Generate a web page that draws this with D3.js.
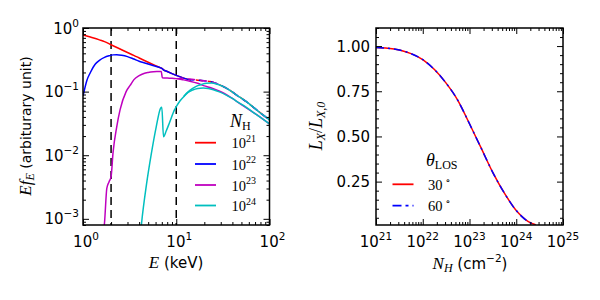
<!DOCTYPE html>
<html><head><meta charset="utf-8">
<script src="https://cdn.jsdelivr.net/npm/d3@7"></script>
<style>body{margin:0;background:#fff}</style>
</head><body>
<svg id="c" width="600" height="300"></svg>
<script>
// ---------- DATA (left panel: E f_E vs E) ----------
const nhLabels = ["21", "22", "23", "24"];
const seriesColors = ["#ff0000", "#0000ff", "#bf00bf", "#00bfbf"];

const e21E = [1, 1.2, 1.5, 1.7, 2, 2.5, 3, 3.5, 4, 5, 6, 6.8, 7.0, 7.3, 8, 9, 10, 12, 14];
const e21V = [0.78, 0.72, 0.65, 0.61, 0.545, 0.467, 0.412, 0.372, 0.338, 0.289, 0.256, 0.236, 0.232, 0.22, 0.207, 0.192, 0.18, 0.163, 0.153];

const e22E = [1, 1.1, 1.2, 1.35, 1.5, 1.7, 1.9, 2.1, 2.3, 2.6, 3, 3.5, 4, 4.5, 5, 6, 6.8, 7.0, 7.3, 8, 9, 10, 12, 14];
const e22V = [0.085, 0.15, 0.2, 0.27, 0.31, 0.345, 0.365, 0.378, 0.38, 0.373, 0.355, 0.325, 0.3, 0.285, 0.272, 0.25, 0.236, 0.232, 0.22, 0.207, 0.192, 0.18, 0.163, 0.153];

const e23E = [1.65, 1.7, 1.8, 1.9, 2, 2.1, 2.3, 2.5, 2.9, 3.2, 3.5, 4, 4.5, 5, 5.7, 6.6, 6.9, 7.1, 8, 9, 10, 12, 14, 17, 20, 23, 27, 32, 38, 44, 56, 70, 85, 100];
const e23V = [0.0006, 0.00086, 0.003, 0.0038, 0.0046, 0.011, 0.028, 0.052, 0.1, 0.125, 0.153, 0.178, 0.193, 0.2, 0.205, 0.207, 0.208, 0.165, 0.163, 0.162, 0.16, 0.153, 0.146, 0.135, 0.123, 0.116, 0.106, 0.095, 0.082, 0.071, 0.056, 0.045, 0.037, 0.031];

const e24E = [4.15, 4.25, 4.8, 5.4, 6.1, 6.8, 7.0, 7.3, 7.8, 8.5, 9.6, 10, 11, 12.3, 13.4, 15, 17, 19.4, 22, 25, 29, 34, 40, 44, 56, 70, 85, 100];
const e24V = [0.0006, 0.00086, 0.0035, 0.0105, 0.028, 0.055, 0.057, 0.0195, 0.024, 0.033, 0.052, 0.058, 0.072, 0.086, 0.097, 0.106, 0.112, 0.114, 0.112, 0.107, 0.099, 0.089, 0.078, 0.071, 0.057, 0.045, 0.037, 0.031];

// second (upper) component, drawn dashed for 1e21-1e23 and solid for 1e24
const e21bE = [14, 17, 20, 23, 27, 32, 38, 44, 56, 70, 85, 100];
const e21bV = [0.153, 0.151, 0.148, 0.144, 0.134, 0.12, 0.104, 0.089, 0.07, 0.054, 0.043, 0.036];
const e22bE = [14, 17, 20, 23, 27, 32, 38, 44, 56, 70, 85, 100];
const e22bV = [0.153, 0.151, 0.148, 0.144, 0.134, 0.12, 0.104, 0.089, 0.07, 0.054, 0.043, 0.036];
const e23bE = [10, 12, 14, 17, 20, 23, 27, 32, 38, 44, 56, 70, 85, 100];
const e23bV = [0.16, 0.162, 0.158, 0.152, 0.148, 0.144, 0.134, 0.12, 0.104, 0.089, 0.07, 0.054, 0.043, 0.036];
const e24bE = [12, 13.4, 15, 17, 19, 21, 24, 27, 32, 38, 44, 56, 70, 85, 100];
const e24bV = [0.084, 0.099, 0.112, 0.124, 0.131, 0.135, 0.136, 0.132, 0.12, 0.104, 0.089, 0.07, 0.054, 0.043, 0.036];

const energyMarks = [2, 10];
const leftXTicks = [1, 10, 100];
const leftXTickExp = ["0", "1", "2"];
const leftYTicks = [1, 0.1, 0.01, 0.001];
const leftYTickExp = ["0", "\u22121", "\u22122", "\u22123"];

// ---------- DATA (right panel: L_X/L_X,0 vs N_H) ----------
const nhGrid = [1e21, 1.78e21, 3.16e21, 5.62e21, 1e22, 1.78e22, 3.16e22, 5.62e22, 1e23, 1.78e23, 3.16e23, 5.62e23, 1e24, 1.78e24, 2.6e24];
const ratio30 = [0.992, 0.988, 0.978, 0.958, 0.925, 0.87, 0.795, 0.70, 0.57, 0.435, 0.30, 0.185, 0.09, 0.03, 0.011];
const ratio60 = [0.992, 0.988, 0.978, 0.958, 0.925, 0.87, 0.795, 0.70, 0.57, 0.435, 0.30, 0.185, 0.09, 0.03, 0.011];
const angleLabels = ["30", "60"];
const rightXTicks = [1e21, 1e22, 1e23, 1e24, 1e25];
const rightXTickExp = ["21", "22", "23", "24", "25"];
const rightYTicks = [0.25, 0.5, 0.75, 1.0];
const rightYTickLabels = ["0.25", "0.50", "0.75", "1.00"];

// ---------- DRAW ----------
const svg = d3.select("#c");
const SANS = "'DejaVu Sans', Verdana, sans-serif";
const SERIF = "'Liberation Serif', 'DejaVu Serif', serif";

const L = {x0: 83, x1: 269.5, y0: 28, y1: 225};
const R = {x0: 376, x1: 563, y0: 28, y1: 225};

const xL = d3.scaleLog().domain([1, 100]).range([L.x0, L.x1]);
const yL = d3.scaleLog().domain([8e-4, 1]).range([L.y1, L.y0]);
const xR = d3.scaleLog().domain([1e21, 1e25]).range([R.x0, R.x1]);
const yR = d3.scaleLinear().domain([0.01, 1.1]).range([R.y1, R.y0]);

function logMinors(lo, hi) {
  const out = [];
  for (let d = lo; d < hi; d *= 10) for (let k = 2; k <= 9; k++) { const v = d * k; if (v < hi * 1.0001) out.push(v); }
  return out;
}

function drawTicks(P, xs, ys, xMaj, xMin, yMaj, yMin) {
  const g = svg.append("g");
  const mk = (axis, tr) => {
    const a = g.append("g").attr("transform", tr).call(axis);
    a.select(".domain").remove();
    a.selectAll("line").attr("stroke", "#000").attr("stroke-width", 1);
    a.selectAll("text").remove();
  };
  [[xMaj, 6], [xMin, 3]].forEach(([v, s]) => {
    mk(d3.axisBottom(xs).tickValues(v).tickSize(-s).tickFormat(""), `translate(0,${P.y1})`);
    mk(d3.axisTop(xs).tickValues(v).tickSize(-s).tickFormat(""), `translate(0,${P.y0})`);
  });
  [[yMaj, 6], [yMin, 3]].forEach(([v, s]) => {
    mk(d3.axisLeft(ys).tickValues(v).tickSize(-s).tickFormat(""), `translate(${P.x0},0)`);
    mk(d3.axisRight(ys).tickValues(v).tickSize(-s).tickFormat(""), `translate(${P.x1},0)`);
  });
}

// clip paths
const defs = svg.append("defs");
defs.append("clipPath").attr("id", "clipL").append("rect")
  .attr("x", L.x0).attr("y", L.y0).attr("width", L.x1 - L.x0).attr("height", L.y1 - L.y0);
defs.append("clipPath").attr("id", "clipR").append("rect")
  .attr("x", R.x0).attr("y", R.y0).attr("width", R.x1 - R.x0).attr("height", R.y1 - R.y0);

// ----- left panel -----
const gL = svg.append("g").attr("clip-path", "url(#clipL)");
energyMarks.forEach(e => {
  gL.append("line").attr("x1", xL(e)).attr("x2", xL(e)).attr("y1", L.y0).attr("y2", L.y1)
    .attr("stroke", "#000").attr("stroke-width", 1.5).attr("stroke-dasharray", "8,5");
});
const lineL = d3.line().x(d => xL(d[0])).y(d => yL(d[1])).curve(d3.curveMonotoneX);
const solidSets = [[e21E, e21V], [e22E, e22V], [e23E, e23V], [e24E, e24V]];
const upperSets = [[e21bE, e21bV], [e22bE, e22bV], [e23bE, e23bV], [e24bE, e24bV]];
const dashOffsets = [6, 3, 0, 0];
solidSets.forEach(([E, V], i) => {
  gL.append("path").datum(E.map((e, j) => [e, V[j]])).attr("d", lineL)
    .attr("fill", "none").attr("stroke", seriesColors[i]).attr("stroke-width", 1.5);
});
upperSets.forEach(([E, V], i) => {
  const p = gL.append("path").datum(E.map((e, j) => [e, V[j]])).attr("d", lineL)
    .attr("fill", "none").attr("stroke", seriesColors[i]).attr("stroke-width", 1.5);
  if (i < 3) p.attr("stroke-dasharray", "7,5").attr("stroke-dashoffset", dashOffsets[i]);
});

drawTicks(L, xL, yL, leftXTicks, logMinors(1, 100), leftYTicks, logMinors(0.001, 1).concat([8e-4, 9e-4]).filter(v => v >= 8e-4 && v <= 1));
svg.append("rect").attr("x", L.x0).attr("y", L.y0).attr("width", L.x1 - L.x0).attr("height", L.y1 - L.y0)
  .attr("fill", "none").attr("stroke", "#000").attr("stroke-width", 1.5);

// tick labels left
leftXTicks.forEach((v, i) => {
  const t = svg.append("text").attr("x", xL(v) + 3).attr("y", 246.5).attr("text-anchor", "middle")
    .attr("font-family", SANS).attr("font-size", 15);
  t.append("tspan").text("10");
  t.append("tspan").attr("dy", -7).attr("font-size", 10.5).text(leftXTickExp[i]);
});
leftYTicks.forEach((v, i) => {
  const t = svg.append("text").attr("x", 79).attr("y", yL(v) + 5.5).attr("text-anchor", "end")
    .attr("font-family", SANS).attr("font-size", 15);
  t.append("tspan").text("10");
  t.append("tspan").attr("dy", -7).attr("font-size", 10.5).text(leftYTickExp[i]);
});

// axis labels left
{
  const t = svg.append("text").attr("x", 176).attr("y", 268).attr("text-anchor", "middle")
    .attr("font-family", SANS).attr("font-size", 15);
  t.append("tspan").attr("font-family", SERIF).attr("font-style", "italic").attr("font-size", 17).text("E");
  t.append("tspan").text(" (keV)");
}
{
  const t = svg.append("text").attr("transform", "translate(31,126) rotate(-90)").attr("text-anchor", "middle")
    .attr("font-family", SANS).attr("font-size", 14);
  t.append("tspan").attr("font-family", SERIF).attr("font-style", "italic").attr("font-size", 17).text("Ef");
  t.append("tspan").attr("font-family", SERIF).attr("font-style", "italic").attr("font-size", 12).attr("dy", 3).text("E");
  t.append("tspan").attr("dy", -3).text(" (arbiturary unit)");
}

// legend left
{
  const t = svg.append("text").attr("x", 230).attr("y", 127).attr("font-family", SERIF).attr("font-size", 18);
  t.append("tspan").attr("font-style", "italic").text("N");
  t.append("tspan").attr("font-size", 12).attr("dy", 3).text("H");
  const ly = [142.7, 164, 185, 205.5];
  nhLabels.forEach((lab, i) => {
    svg.append("line").attr("x1", 195).attr("x2", 216).attr("y1", ly[i]).attr("y2", ly[i])
      .attr("stroke", seriesColors[i]).attr("stroke-width", 1.8);
    const tt = svg.append("text").attr("x", 231.5).attr("y", ly[i] + 5.5).attr("font-family", SERIF).attr("font-size", 14.5);
    tt.append("tspan").text("10");
    tt.append("tspan").attr("dy", -6.5).attr("font-size", 10).text(lab);
  });
}

// ----- right panel -----
const gR = svg.append("g").attr("clip-path", "url(#clipR)");
const lineR = d3.line().x(d => xR(d[0])).y(d => yR(d[1])).curve(d3.curveMonotoneX);
gR.append("path").datum(nhGrid.map((n, j) => [n, ratio30[j]])).attr("d", lineR)
  .attr("fill", "none").attr("stroke", "#ff0000").attr("stroke-width", 1.5);
gR.append("path").datum(nhGrid.map((n, j) => [n, ratio60[j]])).attr("d", lineR)
  .attr("fill", "none").attr("stroke", "#0000ff").attr("stroke-width", 1.5).attr("stroke-dasharray", "8,4,2,4");

const rYMinor = d3.range(1, 23).map(k => k * 0.05).filter(v => Math.abs(v / 0.25 - Math.round(v / 0.25)) > 1e-6);
drawTicks(R, xR, yR, rightXTicks, logMinors(1e21, 1e25), rightYTicks, rYMinor);
svg.append("rect").attr("x", R.x0).attr("y", R.y0).attr("width", R.x1 - R.x0).attr("height", R.y1 - R.y0)
  .attr("fill", "none").attr("stroke", "#000").attr("stroke-width", 1.5);

rightXTicks.forEach((v, i) => {
  const t = svg.append("text").attr("x", xR(v)).attr("y", 246.5).attr("text-anchor", "middle")
    .attr("font-family", SANS).attr("font-size", 15);
  t.append("tspan").text("10");
  t.append("tspan").attr("dy", -7).attr("font-size", 10.5).text(rightXTickExp[i]);
});
rightYTicks.forEach((v, i) => {
  svg.append("text").attr("x", 370).attr("y", yR(v) + 5.5).attr("text-anchor", "end")
    .attr("font-family", SANS).attr("font-size", 15).text(rightYTickLabels[i]);
});

{
  const t = svg.append("text").attr("x", 470).attr("y", 269).attr("text-anchor", "middle")
    .attr("font-family", SANS).attr("font-size", 15);
  t.append("tspan").attr("font-family", SERIF).attr("font-style", "italic").attr("font-size", 17).text("N");
  t.append("tspan").attr("font-family", SERIF).attr("font-style", "italic").attr("font-size", 12).attr("dy", 3).text("H");
  t.append("tspan").attr("dy", -3).text(" (cm");
  t.append("tspan").attr("dy", -7).attr("font-size", 10.5).text("\u22122");
  t.append("tspan").attr("dy", 7).text(")");
}
{
  const t = svg.append("text").attr("transform", "translate(322,126) rotate(-90)").attr("text-anchor", "middle")
    .attr("font-family", SERIF).attr("font-size", 18).attr("font-style", "italic");
  t.append("tspan").text("L");
  t.append("tspan").attr("font-size", 12).attr("dy", 3).text("X");
  t.append("tspan").attr("dy", -3).attr("font-style", "normal").text("/");
  t.append("tspan").text("L");
  t.append("tspan").attr("font-size", 12).attr("dy", 3).text("X,0");
}

// legend right
{
  const t = svg.append("text").attr("x", 426).attr("y", 166).attr("font-family", SERIF).attr("font-size", 18);
  t.append("tspan").attr("font-style", "italic").text("\u03b8");
  t.append("tspan").attr("font-size", 12).attr("dy", 3).text("LOS");
  const ly = [184.3, 205.7];
  const cols = ["#ff0000", "#0000ff"];
  const dashes = [null, "9,4,3,4"];
  angleLabels.forEach((lab, i) => {
    const l = svg.append("line").attr("x1", 392.5).attr("x2", 413.5).attr("y1", ly[i]).attr("y2", ly[i])
      .attr("stroke", cols[i]).attr("stroke-width", 1.8);
    if (dashes[i]) l.attr("stroke-dasharray", dashes[i]);
    const tt = svg.append("text").attr("x", 428).attr("y", ly[i] + 5.5).attr("font-family", SERIF).attr("font-size", 14.5);
    tt.append("tspan").text(lab + "\u2009");
    tt.append("tspan").attr("dy", -6).attr("font-size", 10).text("\u2218");
  });
}
</script>
</body></html>
